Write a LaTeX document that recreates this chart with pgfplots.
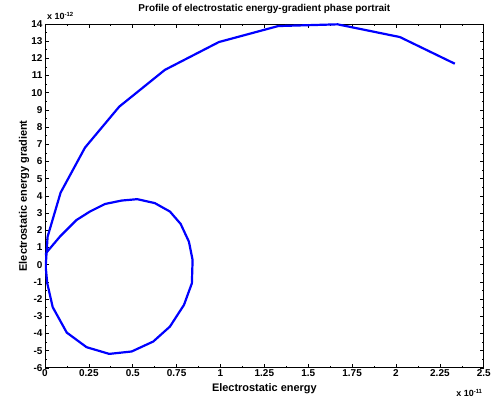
\documentclass[border=0pt]{standalone}
\usepackage{pgfplots}
\pgfplotsset{compat=1.18}
\usepackage{fontspec}
\setmainfont{Liberation Sans}
\begin{document}
\begin{tikzpicture}
\begin{axis}[
  scale only axis,
  width=439bp, height=344bp,
  xmin=0, xmax=2.5e-11, ymin=-6e-12, ymax=14e-12,
  xtick={0,0.25e-11,0.5e-11,0.75e-11,1e-11,1.25e-11,1.5e-11,1.75e-11,2e-11,2.25e-11,2.5e-11},
  ytick={-6e-12,-5e-12,-4e-12,-3e-12,-2e-12,-1e-12,0,1e-12,2e-12,3e-12,4e-12,5e-12,6e-12,7e-12,8e-12,9e-12,10e-12,11e-12,12e-12,13e-12,14e-12},
  minor x tick num=1, minor y tick num=1,
  scaled x ticks=base 10:11,
  scaled y ticks=base 10:12,
  xtick scale label code/.code={x 10\textsuperscript{#1}},
  ytick scale label code/.code={x 10\textsuperscript{#1}},
  every x tick scale label/.style={at={(axis description cs:1,0)}, anchor=base east, yshift=-31bp, xshift=-1bp, inner sep=0pt, font=\fontsize{9}{10}\selectfont\bfseries},
  every y tick scale label/.style={at={(axis description cs:0,1)}, anchor=base west, yshift=4bp, xshift=1bp, inner sep=0pt, font=\fontsize{9}{10}\selectfont\bfseries},
  tick align=inside,
  major tick length=4bp, minor tick length=2bp,
  tick style={black, line width=0.6bp},
  axis line style={black, line width=0.8bp},
  xticklabel={\textbf{\pgfmathprintnumber[assume math mode=true]{\tick}}},
  yticklabel={\textbf{\pgfmathprintnumber[assume math mode=true]{\tick}}},
  ticklabel style={font=\fontsize{10}{11}\selectfont\bfseries},
  /pgf/number format/.cd, fixed, precision=2,
  /pgfplots/.cd,
  xticklabel style={yshift=2bp},
  yticklabel style={xshift=1bp},
  xlabel={Electrostatic energy},
  ylabel={Electrostatic energy gradient},
  xlabel style={font=\fontsize{11}{12}\selectfont\bfseries, at={(axis description cs:0.5,0)}, anchor=base, yshift=-24bp},
  ylabel style={font=\fontsize{11}{12}\selectfont\bfseries, at={(axis description cs:0,0.5)}, anchor=base, yshift=18bp},
  title={Profile of electrostatic energy-gradient phase portrait},
  title style={font=\fontsize{10}{11}\selectfont\bfseries, at={(axis description cs:0.5,1)}, anchor=base, yshift=7bp},
]
\addplot[color={rgb,1:red,0;green,0;blue,1}, line width=2.2bp, line join=round] coordinates {
(0.0005e-11,0.55e-12)
(0.013e-11,0.76e-12)
(0.085e-11,1.63e-12)
(0.18e-11,2.60e-12)
(0.256e-11,3.09e-12)
(0.342e-11,3.53e-12)
(0.437e-11,3.73e-12)
(0.526e-11,3.81e-12)
(0.626e-11,3.58e-12)
(0.712e-11,3.09e-12)
(0.773e-11,2.37e-12)
(0.82e-11,1.34e-12)
(0.841e-11,0.28e-12)
(0.837e-11,-1.08e-12)
(0.792e-11,-2.34e-12)
(0.712e-11,-3.60e-12)
(0.617e-11,-4.47e-12)
(0.494e-11,-5.05e-12)
(0.366e-11,-5.19e-12)
(0.237e-11,-4.80e-12)
(0.124e-11,-3.95e-12)
(0.044e-11,-2.47e-12)
(0.013e-11,-1.08e-12)
(0.004e-11,-0.11e-12)
(0.015e-11,1.63e-12)
(0.089e-11,4.19e-12)
(0.228e-11,6.81e-12)
(0.423e-11,9.19e-12)
(0.683e-11,11.33e-12)
(0.991e-11,12.95e-12)
(1.329e-11,13.88e-12)
(1.667e-11,13.98e-12)
(2.022e-11,13.24e-12)
(2.335e-11,11.69e-12)
};
\end{axis}
\path[use as bounding box] ([xshift=-45bp,yshift=-38bp]current axis.south west) rectangle ([xshift=10bp,yshift=24bp]current axis.north east);
\end{tikzpicture}
\end{document}
